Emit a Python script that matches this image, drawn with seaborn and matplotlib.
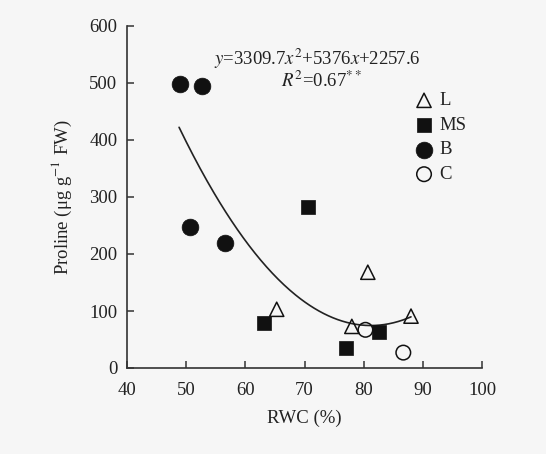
import numpy as np
import pandas as pd
import matplotlib
matplotlib.use("Agg")
import matplotlib.pyplot as plt
import seaborn as sns

# ---- data ----
groups = ["L", "MS", "B", "C"]
L_rwc = [65.3, 80.7, 78.0, 88.0]
L_pro = [103, 168, 73, 91]
MS_rwc = [70.6, 63.1, 77.0, 82.6]
MS_pro = [283, 79, 35, 64]
B_rwc = [48.9, 52.7, 50.6, 56.6]
B_pro = [498, 494, 247, 219]
C_rwc = [80.3, 86.7]
C_pro = [67, 27]

# quadratic fit printed on the chart (x as fraction)
fit_coef = [3309.7, -5376.0, 2257.6]
fit_range = [48.8, 88.0]

xticks = [40, 50, 60, 70, 80, 90, 100]
yticks = [0, 100, 200, 300, 400, 500, 600]

df = pd.DataFrame({
    "RWC": L_rwc + MS_rwc + B_rwc + C_rwc,
    "Proline": L_pro + MS_pro + B_pro + C_pro,
    "group": ["L"] * len(L_rwc) + ["MS"] * len(MS_rwc) + ["B"] * len(B_rwc) + ["C"] * len(C_rwc),
})

sns.set_theme(style="ticks")
plt.rcParams["font.family"] = ["Liberation Serif", "DejaVu Serif"]
plt.rcParams["mathtext.fontset"] = "stix"

bg = "#f6f6f6"
ink = "#111111"
fig = plt.figure(figsize=(5.46, 4.54), dpi=100, facecolor=bg)
ax = fig.add_axes([127 / 546, 1 - 368 / 454, 355 / 546, 342 / 454])
ax.set_facecolor(bg)

style = {
    "L": dict(marker="^", facecolor="none", edgecolor=ink, s=105, linewidth=1.1),
    "MS": dict(marker="s", facecolor=ink, edgecolor=ink, s=100, linewidth=0.5),
    "B": dict(marker="o", facecolor=ink, edgecolor=ink, s=145, linewidth=0.5),
    "C": dict(marker="o", facecolor="none", edgecolor=ink, s=110, linewidth=1.1),
}

# fitted curve
xf = np.linspace(fit_range[0], fit_range[1], 200)
yf = np.polyval(fit_coef, xf / 100.0)
sns.lineplot(x=xf, y=yf, ax=ax, color="#222222", linewidth=1.2, zorder=1)

for g in groups:
    sub = df[df["group"] == g]
    st = style[g]
    sns.scatterplot(data=sub, x="RWC", y="Proline", ax=ax, label=g,
                    marker=st["marker"], s=st["s"],
                    facecolor=st["facecolor"], edgecolor=st["edgecolor"],
                    linewidth=st["linewidth"], zorder=3)

ax.set_xlim(40, 100)
ax.set_ylim(0, 600)
ax.set_xticks(xticks)
ax.set_yticks(yticks)
for sp in ["top", "right"]:
    ax.spines[sp].set_visible(False)
for sp in ["left", "bottom"]:
    ax.spines[sp].set_linewidth(1.2)
    ax.spines[sp].set_color("#333333")
ax.tick_params(axis="both", direction="in", length=5, width=1.1, color="#333333",
               labelsize=13.5, labelcolor="#222222")
ax.tick_params(axis="x", pad=10)
ax.tick_params(axis="y", pad=7)

ax.set_xlabel("RWC (%)", fontsize=13.5, color="#222222", labelpad=8)
ax.set_ylabel(r"Proline (μg g$^{-1}$ FW)", fontsize=13.5, color="#222222", labelpad=11)

ax.text(72.2, 542, r"$y$=3309.7$x^2$+5376$x$+2257.6", ha="center", va="center",
        fontsize=13.5, color="#222222")
ax.text(72.9, 503, r"$R^2$=0.67$^{**}$", ha="center", va="center",
        fontsize=13.5, color="#222222")

leg = ax.legend(loc="upper left", bbox_to_anchor=((88.3 - 40) / 60, 484 / 600),
                frameon=False, fontsize=13.5, handletextpad=0.2, labelspacing=0.4,
                borderaxespad=0, borderpad=0, handlelength=1.2)
for t in leg.get_texts():
    t.set_color("#222222")

fig.savefig("out.png", dpi=100, facecolor=bg)
